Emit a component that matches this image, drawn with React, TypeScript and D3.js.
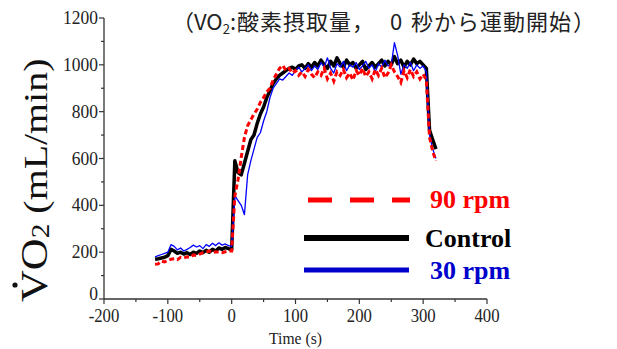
import React from 'react';
import * as d3 from 'd3';

// 時間 (s)
const times = [
  -120, -115, -110, -105, -100, -95, -90, -85, -80, -75, -70, -65, -60, -55, -50, -45, -40, -35, -30, -25, -20, -15, -10, -5,
  0, 5, 10, 15, 20, 25, 30, 35, 40, 45, 50, 55, 60, 65, 70, 75, 80, 85, 90, 95, 100, 105, 110, 115, 120, 125, 130, 135, 140,
  145, 150, 155, 160, 165, 170, 175, 180, 185, 190, 195, 200, 205, 210, 215, 220, 225, 230, 235, 240, 245, 250, 255, 260,
  265, 270, 275, 280, 285, 290, 295, 300, 305, 310, 315, 320,
];

const control = [
  170, 172, 175, 178, 185, 212, 205, 195, 200, 192, 198, 190, 200, 195, 205, 198, 208, 200, 212, 205, 218, 212, 220, 215,
  210, 590, 540, 530, 580, 630, 680, 700, 750, 790, 820, 860, 890, 920, 940, 955, 965, 975, 985, 990, 980, 995, 1000, 985,
  1005, 990, 1010, 995, 1020, 1000, 985, 1015, 995, 1030, 1005, 990, 1020, 1000, 1010, 985, 1000, 1015, 980, 995, 1010,
  990, 1005, 1020, 995, 1015, 1000, 1035, 1005, 1020, 990, 1015, 1000, 1025, 1005, 1015, 1000, 985, 720, 680, 640,
];

const rpm90 = [
  148, 150, 162, 158, 165, 170, 172, 168, 178, 175, 180, 178, 188, 185, 192, 198, 200, 205, 198, 202, 200, 198, 202, 205,
  205, 440, 510, 605, 690, 740, 765, 790, 810, 840, 860, 885, 900, 935, 960, 985, 998, 975, 985, 965, 975, 955, 970, 950,
  980, 960, 945, 970, 955, 985, 940, 965, 930, 970, 955, 980, 945, 965, 935, 975, 955, 985, 950, 970, 940, 980, 955, 985,
  945, 965, 1000, 970, 950, 925, 975, 945, 980, 950, 970, 940, 960, 935, 690, 630, 590,
];

const rpm30 = [
  180, 185, 190, 195, 200, 232, 225, 210, 218, 205, 212, 220, 230, 222, 228, 215, 232, 225, 238, 228, 240, 230, 235, 228,
  225, 440, 420, 400, 360, 530, 590, 640, 690, 710, 760, 800, 860, 900, 920, 940, 935, 950, 965, 955, 975, 990, 970, 985,
  1000, 975, 995, 980, 1010, 990, 1030, 985, 965, 1005, 990, 1015, 975, 1000, 990, 1010, 980, 995, 1015, 985, 1000, 970,
  1005, 990, 1020, 995, 1000, 1095, 1040, 960, 1000, 985, 1010, 975, 1000, 985, 995, 970, 700, 640, 600,
];

const yTicks = [0, 200, 400, 600, 800, 1000, 1200];
const yMinor = [100, 300, 500, 700, 900, 1100];
const xTicks = [-200, -100, 0, 100, 200, 300, 400];
const xMinor = [-150, -50, 50, 150, 250, 350];

const width = 617;
const height = 349;
const serif = '"Liberation Serif", "DejaVu Serif", serif';
const cjk = '"Noto Sans CJK JP", sans-serif';

const App: React.FC = () => {
  const x = d3.scaleLinear().domain([-200, 400]).range([104, 487]);
  const y = d3.scaleLinear().domain([0, 1200]).range([299, 18]);

  const line = d3
    .line<number>()
    .x((_, i) => x(times[i]))
    .y(d => y(d));

  return (
    <svg width={width} height={height} style={{ position: 'absolute', left: 0, top: 0, background: '#fff' }}>
      {/* タイトル */}
      <text y={30} fontFamily={cjk} fontSize={22} fill="#222">
        <tspan x={236} textAnchor="end">（VO</tspan>
        <tspan fontSize={13} dy={4}>2</tspan>
        <tspan dy={-4}>:</tspan>
      </text>
      <text y={30} fontFamily={cjk} fontSize={22} fill="#222" letterSpacing={1}>
        <tspan x={237}>酸素摂取量，</tspan>
        <tspan x={390}>0</tspan>
        <tspan x={411}>秒から運動開始</tspan>
        <tspan x={573}>）</tspan>
      </text>

      {/* 軸 */}
      <line x1={x(-200)} x2={x(400)} y1={y(0)} y2={y(0)} stroke="#333" strokeWidth={1.3} />
      <line x1={x(-200)} x2={x(-200)} y1={y(0)} y2={y(1200)} stroke="#333" strokeWidth={1.3} />
      {yTicks.map(t => (
        <g key={'y' + t}>
          <line x1={x(-200) - 5} x2={x(-200)} y1={y(t)} y2={y(t)} stroke="#333" strokeWidth={1.2} />
          <text
            transform={`translate(${x(-200) - 6},${y(t) + (t === 0 ? 1 : 6)}) scale(0.92,1)`}
            textAnchor="end"
            fontFamily={serif}
            fontSize={19}
            fill="#222"
          >
            {t}
          </text>
        </g>
      ))}
      {yMinor.map(t => (
        <line key={'ym' + t} x1={x(-200) - 3} x2={x(-200)} y1={y(t)} y2={y(t)} stroke="#333" strokeWidth={1.2} />
      ))}
      {xTicks.map(t => (
        <g key={'x' + t}>
          <line x1={x(t)} x2={x(t)} y1={y(0)} y2={y(0) + 5} stroke="#333" strokeWidth={1.2} />
          <text
            transform={`translate(${x(t)},${y(0) + 23}) scale(0.88,1)`}
            textAnchor="middle"
            fontFamily={serif}
            fontSize={19}
            fill="#222"
          >
            {t}
          </text>
        </g>
      ))}
      {xMinor.map(t => (
        <line key={'xm' + t} x1={x(t)} x2={x(t)} y1={y(0)} y2={y(0) + 3} stroke="#333" strokeWidth={1.2} />
      ))}
      <text
        transform={`translate(${x(100)},344) scale(0.92,1)`}
        textAnchor="middle"
        fontFamily={serif}
        fontSize={17}
        fill="#222"
      >
        Time (s)
      </text>

      {/* Y軸タイトル */}
      <text transform="translate(47,302) rotate(-90) scale(1.05,0.9)" fontFamily={serif} fontSize={42} fill="#111">
        VO<tspan fontSize={28} dy={2}>2</tspan>
        <tspan dy={-2} fontSize={38}> (mL/min)</tspan>
      </text>
      <circle cx={15} cy={285} r={2.6} fill="#111" />

      {/* データ */}
      <path d={line(control) || ''} fill="none" stroke="#000" strokeWidth={3.5} strokeLinejoin="round" />
      <path d={line(rpm30) || ''} fill="none" stroke="#0000ff" strokeWidth={1.3} strokeLinejoin="round" />
      <path d={line(rpm90) || ''} fill="none" stroke="#ff0000" strokeWidth={3} strokeDasharray="5,3" />

      {/* 凡例 */}
      <line x1={308} x2={410} y1={200} y2={200} stroke="#ff0000" strokeWidth={5} strokeDasharray="24,18" />
      <text x={430} y={208} fontFamily={serif} fontWeight="bold" fontSize={26} fill="#ff0000">
        90 rpm
      </text>
      <line x1={304} x2={409} y1={238} y2={238} stroke="#000" strokeWidth={6} />
      <text x={425} y={247} fontFamily={serif} fontWeight="bold" fontSize={26} fill="#000">
        Control
      </text>
      <line x1={304} x2={409} y1={270} y2={270} stroke="#0000cc" strokeWidth={5} />
      <text x={430} y={279} fontFamily={serif} fontWeight="bold" fontSize={26} fill="#0000cc">
        30 rpm
      </text>
    </svg>
  );
};

export default App;
